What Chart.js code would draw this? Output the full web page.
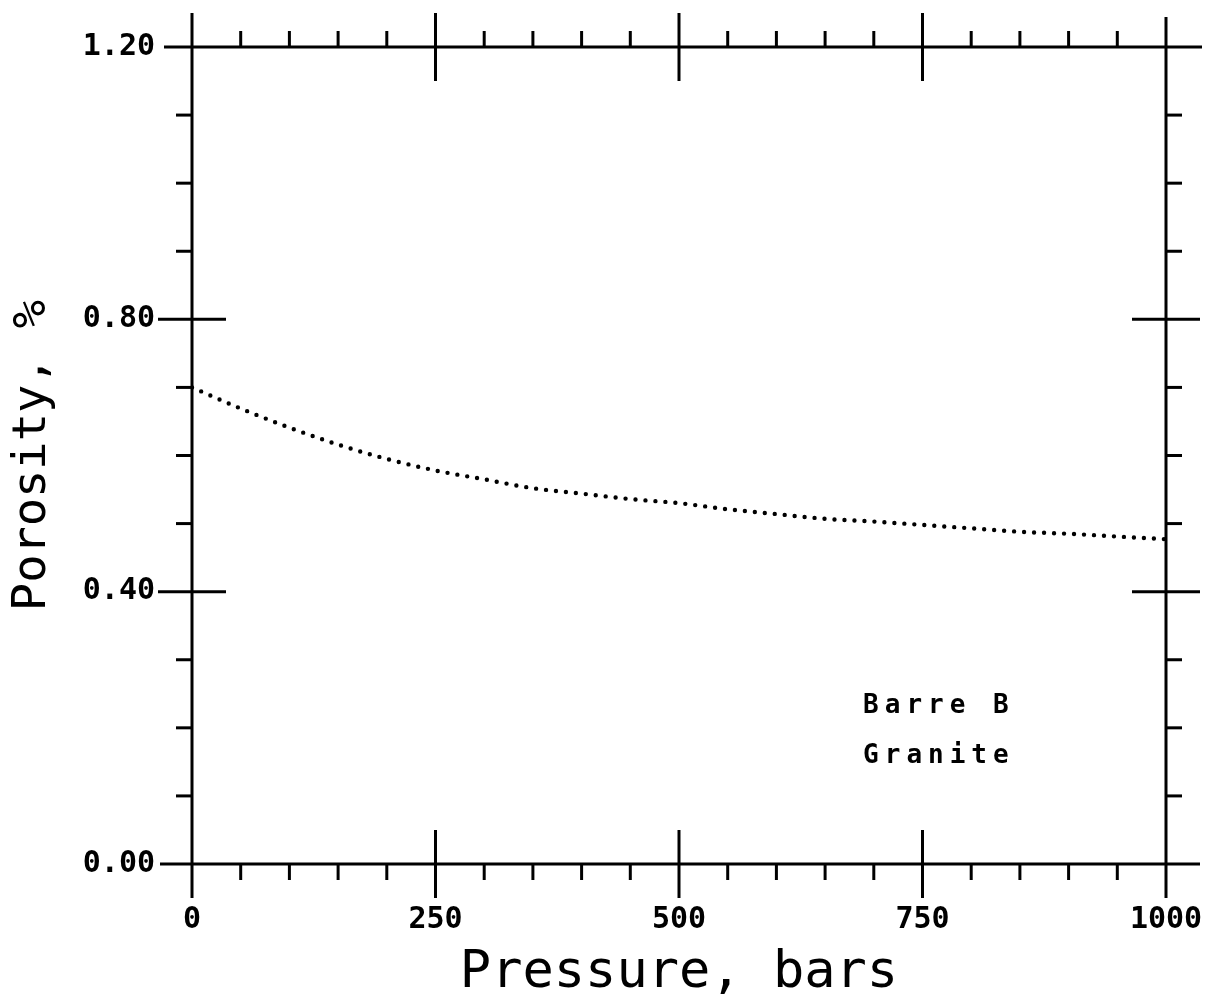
<!DOCTYPE html>
<html>
<head>
<meta charset="utf-8">
<title>Porosity vs pressure</title>
<script src="https://cdn.jsdelivr.net/npm/chart.js@4/dist/chart.umd.min.js"></script>
<style>
    html, body { margin: 0; padding: 0; background: #fff; }
    #wrap { position: relative; width: 1211px; height: 996px; }
</style>
</head>
<body>
<div id="wrap"><canvas id="chart"></canvas></div>
<script>
// values (pressure in bars, porosity in %)
const pressure = [0, 50, 100, 150, 200, 250, 300, 350, 400, 450, 500, 550, 600, 650, 700, 750, 800, 850, 900, 950, 1000];
const porosity = [0.700, 0.669, 0.641, 0.616, 0.595, 0.578, 0.565, 0.552, 0.544, 0.536, 0.530, 0.521, 0.514, 0.507, 0.503, 0.498, 0.493, 0.488, 0.485, 0.481, 0.477];

const xMajorTicks = [0, 250, 500, 750, 1000];
const xMinorTicks = [50, 100, 150, 200, 300, 350, 400, 450, 550, 600, 650, 700, 800, 850, 900, 950];
const yMajorTicks = [0, 0.4, 0.8, 1.2];
const yMinorTicks = [0.1, 0.2, 0.3, 0.5, 0.6, 0.7, 0.9, 1.0, 1.1];

const noteLines = ['Barre B', 'Granite'];

const INK = '#000';
const MONO = '"DejaVu Sans Mono", "Liberation Mono", monospace';

// draws the plotter-style frame: axes that run past the corners, ticks on all four sides
const plotterFrame = {
    id: 'plotterFrame',
    afterDatasetsDraw(chart) {
        const { ctx, scales: { x, y } } = chart;
        const left = x.getPixelForValue(0);
        const right = x.getPixelForValue(1000);
        const top = y.getPixelForValue(1.2);
        const bottom = y.getPixelForValue(0);
        const over = 34;
        const major = 34;
        const minor = 16;

        ctx.save();
        ctx.strokeStyle = INK;
        ctx.lineWidth = 3;
        ctx.lineCap = 'butt';

        const line = (x1, y1, x2, y2) => {
            ctx.beginPath();
            ctx.moveTo(x1, y1);
            ctx.lineTo(x2, y2);
            ctx.stroke();
        };

        // axes
        line(left, top - over, left, bottom + over);
        line(right, top - 30, right, bottom + over);
        line(left - 28, top, right + 36, top);
        line(left - 32, bottom, right + 34, bottom);

        // x ticks
        xMajorTicks.slice(1, -1).forEach(v => {
            const px = x.getPixelForValue(v);
            line(px, bottom - major, px, bottom + major);
            line(px, top - major, px, top + major);
        });
        xMinorTicks.forEach(v => {
            const px = x.getPixelForValue(v);
            line(px, bottom, px, bottom + minor);
            line(px, top, px, top - minor);
        });

        // y ticks
        yMajorTicks.slice(1, -1).forEach(v => {
            const py = y.getPixelForValue(v);
            line(left - major, py, left + major, py);
            line(right - major, py, right + major, py);
        });
        yMinorTicks.forEach(v => {
            const py = y.getPixelForValue(v);
            line(left, py, left - minor, py);
            line(right, py, right + minor, py);
        });

        // sample label
        ctx.fillStyle = INK;
        ctx.font = `bold 26px ${MONO}`;
        ctx.textAlign = 'left';
        ctx.textBaseline = 'alphabetic';
        if ('letterSpacing' in ctx) {
            ctx.letterSpacing = '6px';
        }
        ctx.fillText(noteLines[0], x.getPixelForValue(689), y.getPixelForValue(0.222));
        ctx.fillText(noteLines[1], x.getPixelForValue(689), y.getPixelForValue(0.148));
        ctx.restore();
    },
};

const canvas = document.getElementById('chart');

new Chart(canvas, {
    type: 'line',
    data: {
        datasets: [
            {
                data: pressure.map((p, i) => ({ x: p, y: porosity[i] })),
                borderColor: INK,
                borderWidth: 4.4,
                borderDash: [0, 10],
                borderCapStyle: 'round',
                pointRadius: 0,
                cubicInterpolationMode: 'monotone',
                fill: false,
            },
        ],
    },
    options: {
        responsive: true,
        maintainAspectRatio: false,
        animation: false,
        events: [],
        layout: {
            padding: { top: 47, right: 45, left: 0, bottom: 0 },
        },
        plugins: {
            legend: { display: false },
            tooltip: { enabled: false },
        },
        scales: {
            x: {
                type: 'linear',
                min: 0,
                max: 1000,
                grid: { display: false, drawTicks: false },
                border: { display: false },
                afterFit(scale) {
                    scale.height = 132;
                    scale.paddingLeft = 0;
                    scale.paddingRight = 0;
                },
                afterBuildTicks(scale) {
                    scale.ticks = xMajorTicks.map(value => ({ value }));
                },
                ticks: {
                    color: INK,
                    padding: 38,
                    maxRotation: 0,
                    font: { family: MONO, size: 30, weight: 'bold' },
                    callback(value) {
                        return String(value);
                    },
                },
                title: {
                    display: true,
                    text: 'Pressure, bars',
                    color: INK,
                    padding: 0,
                    font: { family: MONO, size: 52, weight: 'normal', lineHeight: 0.85 },
                },
            },
            y: {
                type: 'linear',
                min: 0,
                max: 1.2,
                grid: { display: false, drawTicks: false },
                border: { display: false },
                afterFit(scale) {
                    scale.width = 192;
                    scale.paddingTop = 0;
                    scale.paddingBottom = 0;
                },
                afterBuildTicks(scale) {
                    scale.ticks = yMajorTicks.map(value => ({ value }));
                },
                ticks: {
                    color: INK,
                    padding: 37,
                    font: { family: MONO, size: 30, weight: 'bold' },
                    callback(value) {
                        return Number(value).toFixed(2);
                    },
                },
                title: {
                    display: true,
                    text: 'Porosity, %',
                    color: INK,
                    padding: { top: 7, bottom: 0 },
                    font: { family: MONO, size: 47, weight: 'normal', lineHeight: 1.1 },
                },
            },
        },
    },
    plugins: [plotterFrame],
});
</script>
</body>
</html>
